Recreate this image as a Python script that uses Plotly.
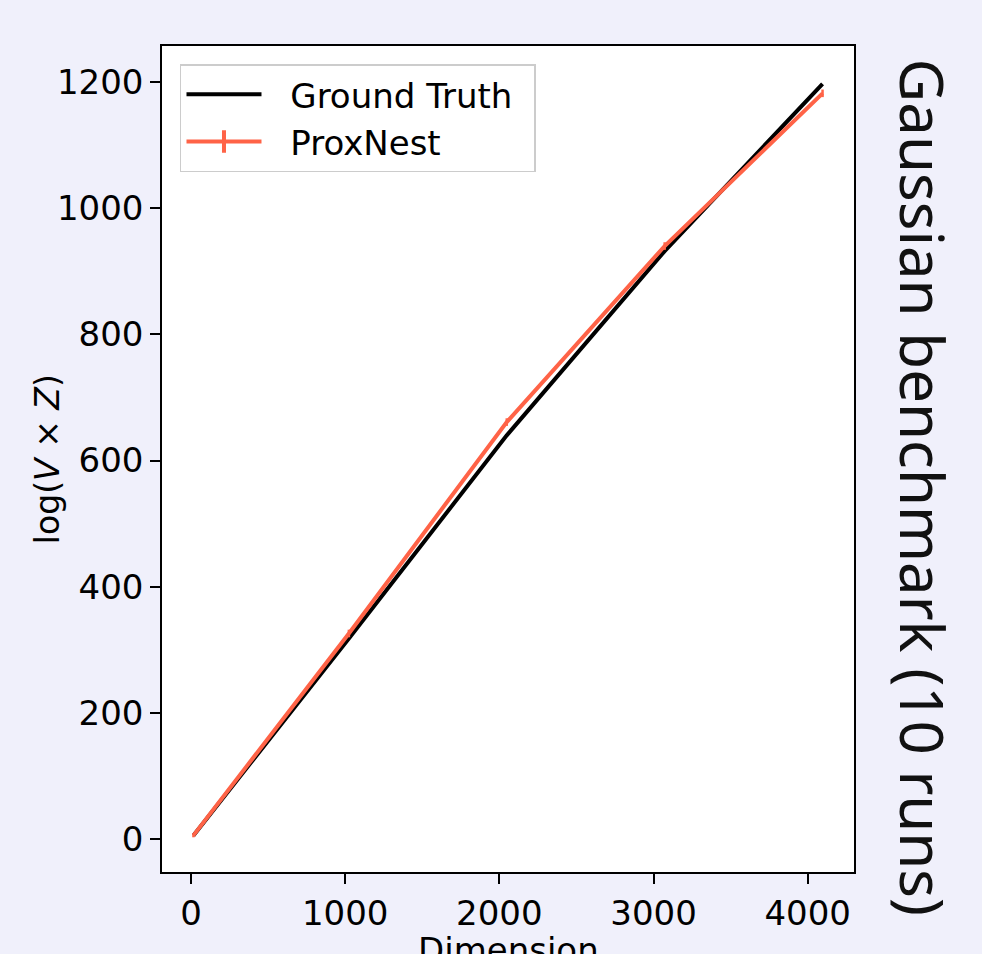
import plotly.graph_objects as go

dims = [16, 1024, 2048, 3072, 4096]
ground_truth = [6, 318, 640, 932, 1197]
proxnest = [6, 326, 661, 940, 1182]
proxnest_err = [3, 6, 6, 6, 6]

x_ticks = [0, 1000, 2000, 3000, 4000]
y_ticks = [0, 200, 400, 600, 800, 1000, 1200]

BLACK = "#000000"
TOMATO = "#FF6347"
BG = "#F0F0FB"

fig = go.Figure()
fig.add_trace(go.Scatter(
    x=dims, y=ground_truth, mode="lines", name="\u2002\u2009Ground Truth\u2002",
    line=dict(color=BLACK, width=4),
))
fig.add_trace(go.Scatter(
    x=dims, y=proxnest, mode="lines", name="ProxNest", showlegend=False,
    line=dict(color=TOMATO, width=4),
    error_y=dict(type="data", array=proxnest_err, color=TOMATO, thickness=2.5, width=0),
))
# legend entry for ProxNest (line with error bar glyph)
fig.add_trace(go.Scatter(
    x=[None], y=[None], mode="lines+markers", name="\u2002\u2009ProxNest",
    line=dict(color=TOMATO, width=4),
    marker=dict(symbol="line-ns", size=34, color=TOMATO,
                line=dict(color=TOMATO, width=4)),
))

axis_common = dict(
    showgrid=False, zeroline=False, showline=True, linecolor=BLACK, linewidth=1.5,
    mirror=True, ticks="outside", ticklen=10, tickwidth=1.5, tickcolor=BLACK,
    tickfont=dict(family="DejaVu Sans", size=34, color=BLACK),
)

fig.update_layout(
    width=982, height=954,
    paper_bgcolor=BG, plot_bgcolor="white",
    margin=dict(l=162, r=128, t=46, b=82),
    showlegend=True,
    legend=dict(
        x=0.026, y=0.978, xanchor="left", yanchor="top",
        bgcolor="white", bordercolor="#CCCCCC", borderwidth=1.5,
        font=dict(family="DejaVu Sans", size=34, color=BLACK),
        itemwidth=75,
    ),
    xaxis=dict(range=[-188, 4300], tickvals=x_ticks,
               ticktext=[str(v) for v in x_ticks], **axis_common),
    yaxis=dict(range=[-52, 1257], tickvals=y_ticks,
               ticktext=[str(v) for v in y_ticks], **axis_common),
    annotations=[
        dict(text="log(<i>V</i> × <i>Z</i>)", xref="paper", yref="paper",
             x=-0.166, y=0.5, xanchor="center", yanchor="middle",
             textangle=-90, showarrow=False,
             font=dict(family="DejaVu Sans", size=33, color=BLACK)),
        dict(text="Dimension", xref="paper", yref="paper",
             x=0.5, y=-0.0944, xanchor="center", yanchor="middle",
             showarrow=False,
             font=dict(family="DejaVu Sans", size=34, color=BLACK)),
        dict(text="Gaussian benchmark (10 runs)", xref="paper", yref="paper",
             x=1.099, y=0.466, xanchor="center", yanchor="middle",
             textangle=90, showarrow=False,
             font=dict(family="Noto Sans", size=60, color="#111111")),
    ],
)

fig.write_html("out.html")
